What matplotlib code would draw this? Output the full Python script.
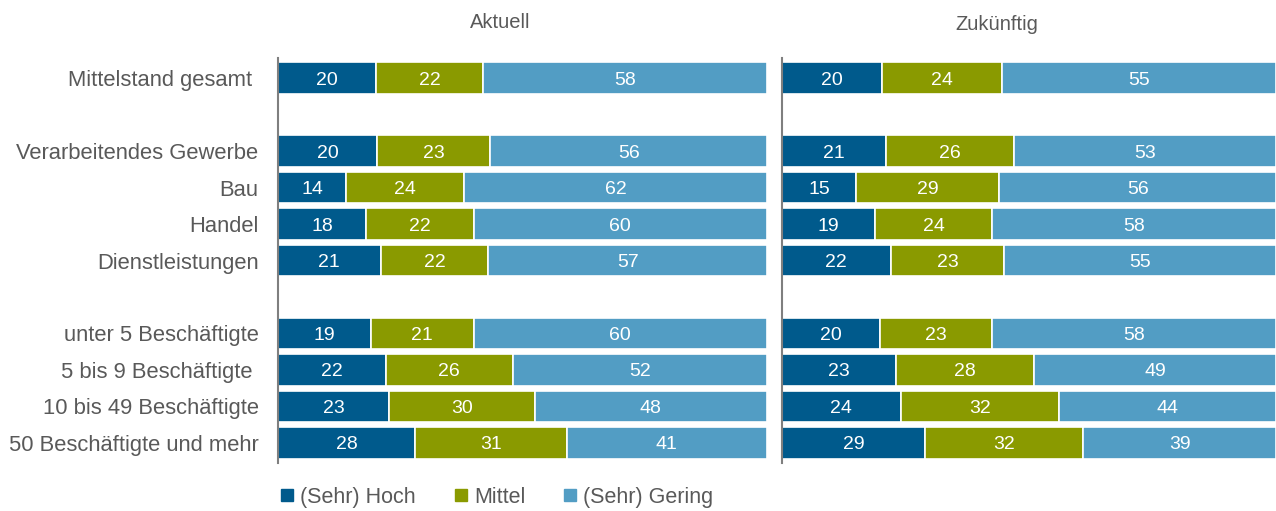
import numpy as np
import matplotlib.pyplot as plt
from matplotlib.lines import Line2D

plt.rcParams['font.family'] = ['Liberation Sans', 'DejaVu Sans']

categories = ["Mittelstand gesamt ", "Verarbeitendes Gewerbe", "Bau", "Handel",
              "Dienstleistungen", "unter 5 Beschäftigte", "5 bis 9 Beschäftigte ",
              "10 bis 49 Beschäftigte", "50 Beschäftigte und mehr"]
row_pos = [0, 2, 3, 4, 5, 7, 8, 9, 10]

series_names = ["(Sehr) Hoch", "Mittel", "(Sehr) Gering"]
colors = ["#005a8c", "#8a9a00", "#529dc4"]

aktuell_hoch = [20, 20, 14, 18, 21, 19, 22, 23, 28]
aktuell_mittel = [22, 23, 24, 22, 22, 21, 26, 30, 31]
aktuell_gering = [58, 56, 62, 60, 57, 60, 52, 48, 41]

zukunft_hoch = [20, 21, 15, 19, 22, 20, 23, 24, 29]
zukunft_mittel = [24, 26, 29, 24, 23, 23, 28, 32, 32]
zukunft_gering = [55, 53, 56, 58, 55, 58, 49, 44, 39]

W, H = 1276, 511
fig = plt.figure(figsize=(W / 100, H / 100), dpi=100)

bottom = 1 - 463 / H
height = 405 / H
ax1 = fig.add_axes([278 / W, bottom, 489 / W, height])
ax2 = fig.add_axes([782 / W, bottom, 494 / W, height])


def draw_panel(ax, data):
    data = np.array(data, dtype=float)
    # rounded labels don't always add up to 100 -> scale each row to full width
    shares = data / data.sum(axis=0) * 100
    left = np.zeros(len(row_pos))
    for vals, share, col in zip(data, shares, colors):
        bars = ax.barh(row_pos, share, left=left, height=0.87, color=col,
                       edgecolor="white", linewidth=1.2)
        for b, v in zip(bars, vals):
            ax.text(b.get_x() + b.get_width() / 2, b.get_y() + b.get_height() / 2,
                    f"{int(v)}", ha="center", va="center_baseline", color="white",
                    fontsize=14)
        left += share
    ax.set_xlim(0, 100)
    ax.set_ylim(10.55, -0.55)
    for s in ["top", "right", "bottom"]:
        ax.spines[s].set_visible(False)
    ax.spines["left"].set_color("#7f7f7f")
    ax.spines["left"].set_linewidth(1.5)
    ax.set_xticks([])
    ax.tick_params(axis="y", length=0)


draw_panel(ax1, [aktuell_hoch, aktuell_mittel, aktuell_gering])
draw_panel(ax2, [zukunft_hoch, zukunft_mittel, zukunft_gering])

ax1.set_yticks(row_pos)
ax1.set_yticklabels(categories, fontsize=15.8, color="#595959")
ax1.tick_params(axis="y", pad=14)
ax2.set_yticks([])

fig.text(500 / W, 1 - 22 / H, "Aktuell", ha="center", va="center", fontsize=14.5, color="#595959")
fig.text(997 / W, 1 - 24 / H, "Zukünftig", ha="center", va="center", fontsize=14.5, color="#595959")

handles = [Line2D([], [], marker="s", linestyle="none", markersize=8.5, color=c) for c in colors]
fig.legend(handles, series_names, loc="center", bbox_to_anchor=(497 / W, 1 - 497 / H),
           ncol=3, frameon=False, fontsize=15.5, handlelength=0.6, handletextpad=0.3,
           columnspacing=1.8, labelcolor="#595959")

fig.savefig("out.png", dpi=100)
